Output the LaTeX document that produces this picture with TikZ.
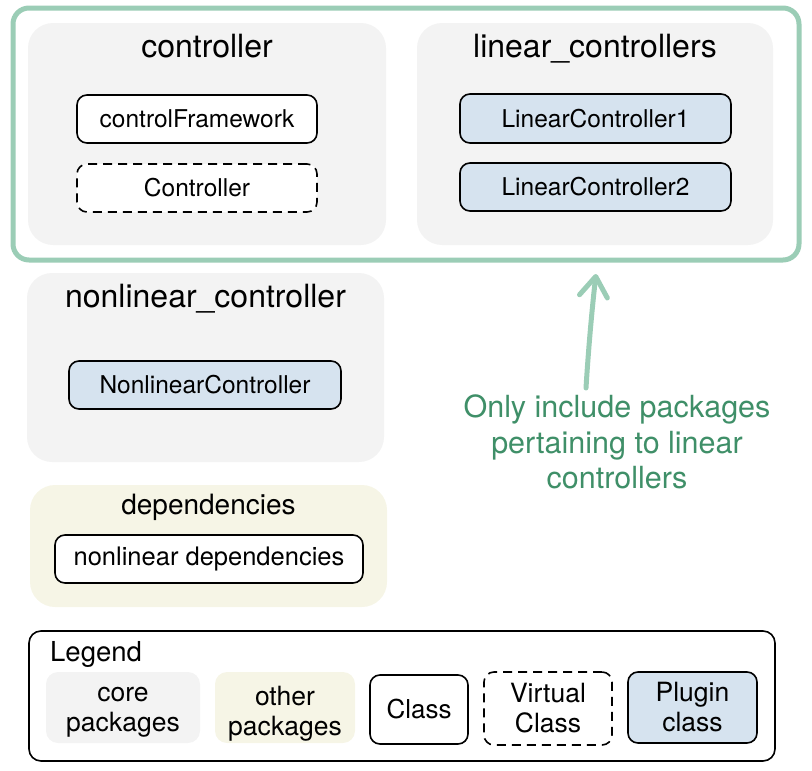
\documentclass[tikz,border=0pt]{standalone}
\usepackage{fontspec}
\setmainfont{TeX Gyre Heros}
\usetikzlibrary{arrows.meta}
\definecolor{coregray}{HTML}{F3F3F3}
\definecolor{othercream}{HTML}{F6F5E6}
\definecolor{plugblue}{HTML}{D6E3EF}
\definecolor{hlgreen}{HTML}{9BCDB6}
\definecolor{txtgreen}{HTML}{3F8F68}
\tikzset{
  grp/.style={draw=none, fill=coregray, rounded corners=25pt, inner sep=0pt},
  othergrp/.style={grp, fill=othercream},
  grptitle/.style={anchor=base, inner sep=0pt, font=\fontsize{32}{36}\selectfont},
  clsbox/.style={draw=black, line width=1.6pt, fill=white, rounded corners=10pt, inner sep=0pt,
    font=\fontsize{24.5}{29}\selectfont},
  virtbox/.style={clsbox, dash pattern=on 9pt off 6pt},
  plugbox/.style={clsbox, fill=plugblue},
  legtxt/.style={font=\fontsize{26.5}{30}\selectfont, align=center, inner sep=0pt},
}
\begin{document}
\begin{tikzpicture}[x=1pt, y=-1pt]
\useasboundingbox (0,0) rectangle (812,771);

% highlight frame
\node[draw=hlgreen, line width=5pt, rounded corners=16pt, minimum width=786pt, minimum height=252pt, inner sep=0pt] (frame) at (406,134) {};

% controller package
\node[grp, minimum width=358pt, minimum height=222pt] (gctrl) at (207,134) {};
\node[grptitle] (tctrl) at (207,57) {controller};
\node[clsbox, minimum width=240pt, minimum height=48pt] (cfw) at (197,119) {controlFramework};
\node[virtbox, minimum width=240pt, minimum height=48pt] (cvirt) at (197,188) {Controller};

% linear controllers package
\node[grp, minimum width=356pt, minimum height=222pt] (glin) at (595,134) {};
\node[grptitle] (tlin) at (595,57) {linear\_controllers};
\node[plugbox, minimum width=271pt, minimum height=49pt] (lc1) at (595.5,118.5) {LinearController1};
\node[plugbox, minimum width=271pt, minimum height=48pt] (lc2) at (595.5,187) {LinearController2};

% nonlinear controller package
\node[grp, minimum width=357pt, minimum height=189pt] (gnon) at (205.5,367.5) {};
\node[grptitle] (tnon) at (205.5,307) {nonlinear\_controller};
\node[plugbox, minimum width=272pt, minimum height=48pt] (nlc) at (205,385) {NonlinearController};

% dependencies package
\node[othergrp, minimum width=357pt, minimum height=122pt] (gdep) at (208.5,546) {};
\node[grptitle, font=\fontsize{28}{32}\selectfont] (tdep) at (208.5,514) {dependencies};
\node[clsbox, font=\fontsize{25.5}{30}\selectfont, minimum width=308pt, minimum height=48pt] (nld) at (209,559) {nonlinear dependencies};

% annotation
\node[text=txtgreen, align=center, inner sep=0pt, font=\fontsize{30.5}{35.5}\selectfont] (note) at (617,442) {Only include packages\\pertaining to linear\\controllers};
\coordinate (arrstart) at (586,388);
\coordinate (arrend) at (596,274);
\draw[hlgreen, line width=5pt, line cap=round, -{Straight Barb[length=20pt, width=28pt, line cap=round, line join=round]}]
  (arrstart) .. controls (589,340) and (593,300) .. (arrend);

% legend
\node[draw=black, line width=1.6pt, rounded corners=12pt, minimum width=746pt, minimum height=130pt, inner sep=0pt] (legend) at (402,696) {};
\node[anchor=base west, inner sep=0pt, font=\fontsize{27.5}{30}\selectfont] (legtitle) at (50,661) {Legend};
\node[fill=coregray, rounded corners=12pt, minimum width=154pt, minimum height=71pt, inner sep=0pt] (lcore) at (123,707.5) {};
\node[legtxt] (lcoretxt) at (123,712.5) {core\\packages};
\node[fill=othercream, rounded corners=12pt, minimum width=140pt, minimum height=71pt, inner sep=0pt] (lother) at (285,707.5) {};
\node[legtxt] (lothertxt) at (285,713.5) {other\\packages};
\node[clsbox, font=\fontsize{26}{30}\selectfont, minimum width=98pt, minimum height=69pt] (lclass) at (419,709.5) {Class};
\node[virtbox, legtxt, minimum width=128pt, minimum height=73pt] (lvirt) at (548,708.5) {Virtual\\Class};
\node[plugbox, legtxt, minimum width=129pt, minimum height=71pt] (lplug) at (692.5,707.5) {Plugin\\class};
\end{tikzpicture}
\end{document}
